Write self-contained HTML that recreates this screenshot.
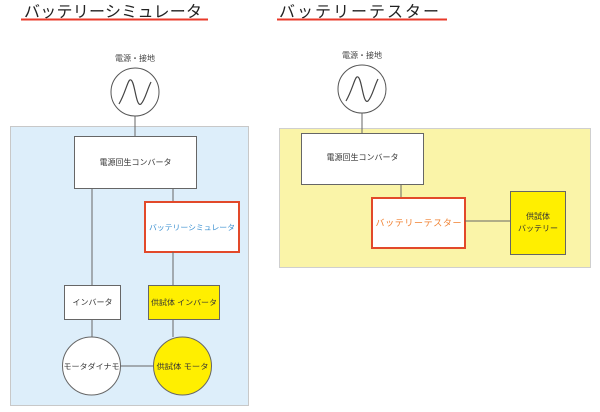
<!DOCTYPE html>
<html><head><meta charset="utf-8"><style>
body{margin:0;background:#fff;width:600px;height:407px;overflow:hidden}
svg text{font-family:"Liberation Sans","Noto Sans CJK JP",sans-serif}
</style></head><body>
<svg width="600" height="407" viewBox="0 0 600 407" xmlns="http://www.w3.org/2000/svg">
<text x="24" y="17" font-size="16" fill="#222" textLength="178" lengthAdjust="spacing">バッテリーシミュレータ</text>
<line x1="21" y1="19.5" x2="208" y2="19.5" stroke="#e8392a" stroke-width="2"/>
<text x="279" y="17" font-size="16" fill="#222" textLength="160" lengthAdjust="spacing">バッテリーテスター</text>
<line x1="277" y1="19.5" x2="447" y2="19.5" stroke="#e8392a" stroke-width="2"/>

<!-- left -->
<rect x="10.5" y="126.5" width="238" height="279" fill="#ddeefa" stroke="#c8c8c8"/>
<text x="135" y="61" font-size="8" fill="#444" text-anchor="middle">電源・接地</text>
<line x1="135" y1="116" x2="135" y2="136" stroke="#666"/>
<circle cx="135" cy="92" r="24" fill="#fff" stroke="#555"/>
<path d="M119 104 C126 92 128 78 131 80 C135 82 136 108 141 104 C145 100 147 90 151 82" fill="none" stroke="#444" stroke-width="1.2"/>
<rect x="74.5" y="136.5" width="122" height="52" fill="#fff" stroke="#666"/>
<text x="135.5" y="165" font-size="8" fill="#333" text-anchor="middle">電源回生コンバータ</text>
<line x1="92" y1="188" x2="92" y2="285" stroke="#666"/>
<line x1="173" y1="188" x2="173" y2="202" stroke="#666"/>
<rect x="145" y="202" width="94" height="50" fill="#fff" stroke="#e2492a" stroke-width="2"/>
<text x="192" y="230" font-size="7.5" fill="#3a8fd0" text-anchor="middle" textLength="86" lengthAdjust="spacingAndGlyphs">バッテリーシミュレータ</text>
<line x1="173" y1="252" x2="173" y2="285" stroke="#666"/>
<rect x="64.5" y="285.5" width="56" height="34" fill="#fff" stroke="#666"/>
<text x="92.5" y="305" font-size="8" fill="#333" text-anchor="middle">インバータ</text>
<rect x="148.5" y="285.5" width="71" height="34" fill="#ffef00" stroke="#666"/>
<text x="184" y="305" font-size="7.5" fill="#333" text-anchor="middle" textLength="66" lengthAdjust="spacingAndGlyphs">供試体 インバータ</text>
<line x1="92" y1="319" x2="92" y2="337" stroke="#666"/>
<line x1="173" y1="319" x2="173" y2="337" stroke="#666"/>
<line x1="120" y1="366" x2="154" y2="366" stroke="#666"/>
<circle cx="91.5" cy="366" r="29" fill="#fff" stroke="#666"/>
<text x="91.5" y="369" font-size="7.5" fill="#333" text-anchor="middle" textLength="56" lengthAdjust="spacingAndGlyphs">モータダイナモ</text>
<circle cx="182.5" cy="366" r="29" fill="#ffef00" stroke="#666"/>
<text x="182.5" y="369" font-size="7.5" fill="#333" text-anchor="middle" textLength="52" lengthAdjust="spacingAndGlyphs">供試体 モータ</text>

<!-- right -->
<rect x="279.5" y="128.5" width="311" height="139" fill="#faf4a8" stroke="#cfcfcf"/>
<text x="362" y="58" font-size="8" fill="#444" text-anchor="middle">電源・接地</text>
<line x1="362" y1="113" x2="362" y2="133" stroke="#666"/>
<circle cx="362" cy="89" r="24" fill="#fff" stroke="#555"/>
<path d="M346 101 C353 89 355 75 358 77 C362 79 363 105 368 101 C372 97 374 87 378 79" fill="none" stroke="#444" stroke-width="1.2"/>
<rect x="301.5" y="133.5" width="122" height="51" fill="#fff" stroke="#666"/>
<text x="362.5" y="160" font-size="8" fill="#333" text-anchor="middle">電源回生コンバータ</text>
<line x1="401" y1="184" x2="401" y2="198" stroke="#666"/>
<rect x="372" y="198" width="93" height="50" fill="#fff" stroke="#e2492a" stroke-width="2"/>
<text x="418.5" y="226" font-size="9" fill="#f08030" text-anchor="middle" textLength="86" lengthAdjust="spacing">バッテリーテスター</text>
<line x1="465" y1="221" x2="510" y2="221" stroke="#666"/>
<rect x="510.5" y="191.5" width="55" height="63" fill="#ffef00" stroke="#666"/>
<text x="538" y="219" font-size="8" fill="#333" text-anchor="middle">供試体</text>
<text x="538" y="231" font-size="8" fill="#333" text-anchor="middle">バッテリー</text>
</svg>
</body></html>
